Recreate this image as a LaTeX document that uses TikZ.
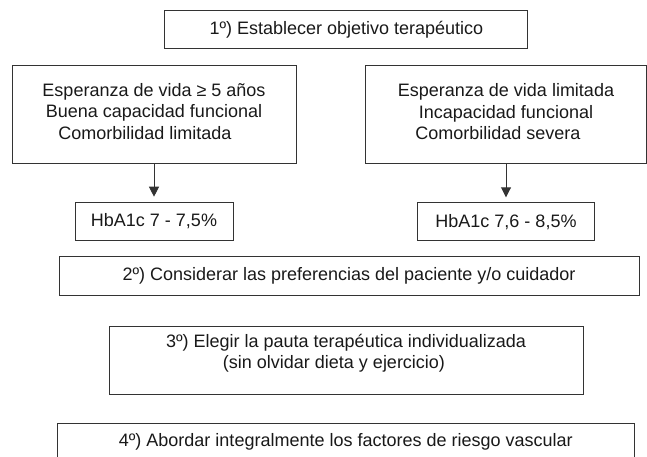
\documentclass[tikz,border=0pt]{standalone}
\usepackage{fontspec}
\setmainfont{Liberation Sans}
\usetikzlibrary{shapes,arrows.meta,calc,positioning}
\newcommand{\holgura}[1]{\rule[-#1]{0pt}{#1}}

\begin{document}
\begin{tikzpicture}[x=1pt,y=-1pt,every node/.style={block},
  block/.style={draw=black!80,line width=0.9pt,rectangle,outer sep=0pt,inner sep=0pt,
    align=center,text=black!90,font=\fontsize{18}{21.5}\selectfont},
  flecha/.style={-{Triangle[length=10pt,width=10pt]},draw=black!80,line width=0.9pt,shorten >=5.5pt}]

        \useasboundingbox (0,0) rectangle (647,457);

        \node (obj) [minimum width=363pt,minimum height=38pt] at (346.4,29.9) {1º) Establecer objetivo terapéutico};
        \node (L) [minimum width=284pt,minimum height=98pt] at (154,114.2)
          {Esperanza de vida ≥ 5 años\\Buena capacidad funcional\\Comorbilidad limitada\kern18pt\holgura{6pt}};
        \node (R) [minimum width=281pt,minimum height=98pt] at (506,114.8)
          {Esperanza de vida limitada\\Incapacidad funcional\\Comorbilidad severa\kern16pt\holgura{6pt}};
        \node (hL) [below=39pt of L,minimum width=158pt,minimum height=38pt] {HbA1c 7 - 7,5\%};
        \node (hR) [below=39pt of R,minimum width=177pt,minimum height=38pt] {HbA1c 7,6 - 8,5\%};
        \node (p2) [minimum width=580pt,minimum height=39pt] at (349,276.2)
          {2º) Considerar las preferencias del paciente y/o cuidador};
        \node (p3) [minimum width=474pt,minimum height=68pt] at (346,360.2)
          {3º) Elegir la pauta terapéutica individualizada\\(sin olvidar dieta y ejercicio)\kern24pt\holgura{18pt}};
        \node (p4) [minimum width=577pt,minimum height=38pt,anchor=north] at (345.8,423)
          {4º) Abordar integralmente los factores de riesgo vascular};

        \draw[flecha] (L) -- (hL);
        \draw[flecha] (R) -- (hR);
\end{tikzpicture}
\end{document}
